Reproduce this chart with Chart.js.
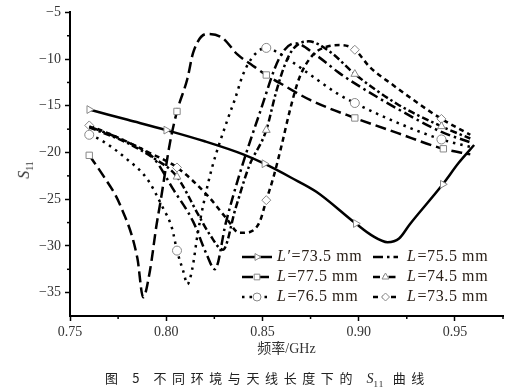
<!DOCTYPE html>
<html>
<head>
<meta charset="utf-8">
<script src="https://cdn.jsdelivr.net/npm/chart.js@4.4.1/dist/chart.umd.min.js"></script>
<style>
  body { margin: 0; background: #fff; }
  #wrap { position: relative; width: 520px; height: 390px; }
  #ylab { position: absolute; left: 10px; top: 160px; width: 30px; text-align: center;
          transform: rotate(-90deg); font: italic 16px "Liberation Serif", serif; color: #333; }
  #ylab sub { font-style: normal; font-size: 10px; }
  #cap { position: absolute; left: 0; top: 368px; width: 535px; text-align: center;
         font: 13px "Noto Sans CJK SC", sans-serif; letter-spacing: 5.6px; color: #222; }
  #cap sub { font-size: 9px; letter-spacing: 1px; font-family: "Liberation Serif", serif; }
  #cap i { font-family: "Liberation Serif", serif; font-size: 14px; letter-spacing: 0; }
</style>
</head>
<body>
<div id="wrap">
  <canvas id="s11Chart" width="520" height="390"></canvas>
  <div id="ylab">S<sub>11</sub></div>
  <div id="cap">图 5 不同环境与天线长度下的 <i>S</i><sub>11</sub> 曲线</div>
</div>
<script>
// series labels, in legend order (left column, then right column)
const labels = ["L′=73.5 mm", "L=77.5 mm", "L=76.5 mm", "L=75.5 mm", "L=74.5 mm", "L=73.5 mm"];

// L'=73.5 mm
const freqA = [0.76, 0.78, 0.80, 0.82, 0.84, 0.851, 0.865, 0.878, 0.8985, 0.907, 0.915, 0.921, 0.9265, 0.9437, 0.952, 0.96];
const s11A  = [-15.4, -16.5, -17.6, -18.8, -20.2, -21.2, -22.7, -24.2, -27.6, -28.9, -29.6, -29.2, -27.7, -23.4, -21.1, -19.2];
const markA = [0.76, 0.80, 0.851, 0.8985, 0.9437];

// L=77.5 mm
const freqB = [0.76, 0.767, 0.776, 0.785, 0.788, 0.7915, 0.795, 0.797, 0.802, 0.8056, 0.811, 0.814, 0.821, 0.829, 0.837, 0.845, 0.852, 0.861, 0.875, 0.898, 0.92, 0.944, 0.958];
const s11B  = [-20.3, -22.4, -25.6, -31.3, -35.5, -32.7, -27.7, -25.3, -18.9, -15.6, -12.1, -9.3, -7.3, -7.7, -9.5, -10.7, -11.7, -12.8, -14.4, -16.3, -17.9, -19.6, -20.2];
const markB = [0.76, 0.8056, 0.852, 0.898, 0.944];

// L=76.5 mm
const freqC = [0.76, 0.7656, 0.7795, 0.79, 0.798, 0.803, 0.8056, 0.809, 0.811, 0.8135, 0.8165, 0.82, 0.8237, 0.832, 0.8357, 0.84, 0.846, 0.852, 0.858, 0.873, 0.889, 0.898, 0.92, 0.943, 0.958];
const s11C  = [-18.1, -18.6, -20.7, -22.8, -25.8, -28.1, -30.5, -32.8, -34.1, -32.5, -28.5, -24.9, -21.7, -16.4, -14.3, -11.6, -9.5, -8.8, -9.3, -11.4, -13.7, -14.7, -16.8, -18.6, -19.4];
const markC = [0.76, 0.8056, 0.852, 0.898, 0.943];

// L=75.5 mm
const freqE = [0.76, 0.78, 0.7935, 0.8035, 0.814, 0.821, 0.8253, 0.831, 0.838, 0.8487, 0.859, 0.867, 0.878, 0.89, 0.898, 0.92, 0.943, 0.958];
const s11E  = [-17.2, -18.9, -20.6, -23.9, -27.4, -30.9, -32.5, -27.5, -22.4, -15.7, -9.8, -8.3, -9.6, -11.5, -12.6, -15.3, -17.8, -18.9];
const markE = [];

// L=74.5 mm
const freqF = [0.76, 0.78, 0.7935, 0.8056, 0.8165, 0.8227, 0.8295, 0.836, 0.843, 0.852, 0.857, 0.8615, 0.866, 0.874, 0.885, 0.898, 0.92, 0.943, 0.958];
const s11F  = [-17.3, -19.0, -20.6, -22.6, -26.6, -28.8, -30.4, -26.0, -21.5, -17.6, -13.6, -10.7, -8.9, -8.1, -9.2, -11.6, -14.8, -17.2, -18.5];
const markF = [0.8056, 0.852, 0.898, 0.943];

// L=73.5 mm
const freqD = [0.76, 0.775, 0.79, 0.8056, 0.821, 0.8315, 0.838, 0.8435, 0.8486, 0.852, 0.8555, 0.86, 0.864, 0.869, 0.876, 0.883, 0.891, 0.898, 0.906, 0.918, 0.93, 0.943, 0.958];
const s11D  = [-17.1, -18.4, -19.9, -21.6, -24.5, -27.1, -28.6, -28.5, -27.4, -25.1, -22.8, -19.2, -15.7, -12.1, -9.6, -8.7, -8.5, -9.0, -10.9, -12.8, -14.6, -16.4, -18.1];
const markD = [0.76, 0.8056, 0.852, 0.898, 0.943];

const xTicks = [0.75, 0.80, 0.85, 0.90, 0.95];
const xMinor = [0.775, 0.825, 0.875, 0.925, 0.975];
const yTicks = [-35, -30, -25, -20, -15, -10, -5];
const yMinor = [-32.5, -27.5, -22.5, -17.5, -12.5, -7.5];

const serif = '"Liberation Serif", "Noto Sans CJK SC", serif';

function series(label, fx, fy, marks, dash, style, rot) {
  return {
    label,
    data: fx.map((x, i) => ({ x, y: fy[i] })),
    borderColor: '#000',
    borderWidth: 2.5,
    borderDash: dash,
    cubicInterpolationMode: 'monotone',
    pointStyle: style,
    pointRotation: rot || 0,
    pointRadius: ctx => marks.includes(ctx.raw && ctx.raw.x) ? 4.5 : 0,
    pointBorderColor: '#888',
    pointBackgroundColor: '#fff',
    pointBorderWidth: 1,
    marks
  };
}

const minorTicks = {
  id: 'minorTicks',
  afterDraw(chart) {
    const { ctx, scales: { x, y } } = chart;
    ctx.save();
    ctx.strokeStyle = '#000';
    ctx.lineWidth = 1.5;
    xMinor.forEach(v => {
      const px = x.getPixelForValue(v);
      ctx.beginPath(); ctx.moveTo(px, x.top); ctx.lineTo(px, x.top + 3); ctx.stroke();
    });
    yMinor.forEach(v => {
      const py = y.getPixelForValue(v);
      ctx.beginPath(); ctx.moveTo(y.right, py); ctx.lineTo(y.right - 3, py); ctx.stroke();
    });
    ctx.restore();
  }
};

// legend inside the plot, two columns of three rows
const legendBox = {
  id: 'legendBox',
  afterDraw(chart) {
    const ctx = chart.ctx;
    chart.data.datasets.forEach((ds, i) => {
      const col = i < 3 ? 0 : 1, row = i % 3;
      const x0 = col ? 373 : 242, x1 = col ? 398 : 272, tx = col ? 407 : 277;
      const y = 257 + row * 20;
      ctx.save();
      ctx.strokeStyle = '#000';
      ctx.lineWidth = 2.5;
      ctx.setLineDash(ds.borderDash || []);
      ctx.beginPath(); ctx.moveTo(x0, y); ctx.lineTo(x1, y); ctx.stroke();
      ctx.setLineDash([]);
      if (ds.marks.length) {
        ctx.fillStyle = '#fff';
        ctx.strokeStyle = '#888';
        ctx.lineWidth = 1;
        Chart.helpers.drawPoint(ctx, { pointStyle: ds.pointStyle, rotation: ds.pointRotation, radius: 4, borderWidth: 1 }, (x0 + x1) / 2, y);
      }
      ctx.fillStyle = '#2a2018';
      ctx.textBaseline = 'middle';
      ctx.letterSpacing = '0.6px';
      ctx.font = 'italic 16px "Liberation Serif", serif';
      ctx.fillText(ds.label[0], tx, y);
      const w = ctx.measureText(ds.label[0]).width;
      ctx.font = '16px "Liberation Serif", serif';
      ctx.fillText(ds.label.slice(1), tx + w + 1, y);
      ctx.restore();
    });
  }
};

new Chart(document.getElementById('s11Chart'), {
  type: 'line',
  data: {
    datasets: [
      series(labels[0], freqA, s11A, markA, [], 'triangle', 90),
      series(labels[1], freqB, s11B, markB, [11, 5], 'rect'),
      series(labels[2], freqC, s11C, markC, [2.5, 5], 'circle'),
      series(labels[3], freqE, s11E, markE, [10, 4, 2.5, 4], 'circle'),
      series(labels[4], freqF, s11F, markF, [7, 3, 2.5, 3], 'triangle'),
      series(labels[5], freqD, s11D, markD, [5, 4], 'rectRot')
    ]
  },
  options: {
    responsive: false,
    animation: false,
    layout: { padding: { left: 0, right: 17, top: 10, bottom: 30 } },
    plugins: { legend: { display: false }, tooltip: { enabled: false } },
    scales: {
      x: {
        type: 'linear', min: 0.75, max: 0.975,
        afterBuildTicks: s => { s.ticks = xTicks.map(v => ({ value: v })); },
        afterFit: s => { s.height = 44; },
        ticks: { callback: v => v.toFixed(2), font: { family: serif, size: 14 }, color: '#333', padding: 3, maxRotation: 0 },
        grid: { drawOnChartArea: false, drawTicks: true, tickLength: 5, color: '#000', tickWidth: 1.5 },
        border: { color: '#000', width: 2 },
        title: { display: true, text: '频率/GHz', font: { family: serif, size: 14 }, color: '#333', padding: { top: 0, bottom: 2 } }
      },
      y: {
        min: -37.5, max: -5,
        afterBuildTicks: s => { s.ticks = yTicks.map(v => ({ value: v })); },
        afterFit: s => { s.width = 70; },
        ticks: { callback: v => '−' + Math.abs(v), font: { family: serif, size: 14 }, color: '#333', padding: 4 },
        grid: { drawOnChartArea: false, drawTicks: true, tickLength: 5, color: '#000', tickWidth: 1.5 },
        border: { color: '#000', width: 2 }
      }
    }
  },
  plugins: [minorTicks, legendBox]
});
</script>
</body>
</html>
